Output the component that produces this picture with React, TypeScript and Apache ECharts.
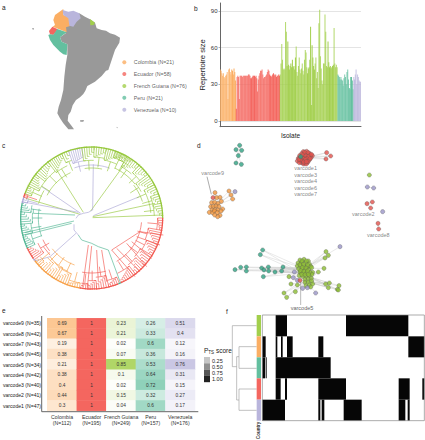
import React, { useEffect, useRef } from "react";
import * as echarts from "echarts";

const FONT = "Liberation Sans";
const ORANGE = "#fbae63";
const RED = "#f4665f";
const GREEN = "#a2cf4c";
const TEAL = "#63bf9f";
const PURPLE = "#b9b5dc";
const GREY = "#999999";
const T_ORANGE = "#f79f45";
const T_RED = "#f2574f";
const T_GREEN = "#96c83c";
const T_TEAL = "#4fb592";
const T_PURPLE = "#aaa6d6";

// ---------- a: map (outline in map units)
const landOutline = [[238,40],[255,50],[270,58],[285,68],[290,85],[305,90],[318,92],[330,100],[345,104],[360,113],[358,128],[345,150],[340,165],[335,180],[325,210],[318,212],[305,228],[285,245],[262,258],[256,272],[250,282],[240,292],[228,300],[218,316],[212,335],[205,345],[203,362],[215,378],[222,388],[205,388],[190,370],[180,355],[172,340],[176,320],[183,300],[190,270],[193,230],[197,195],[202,165],[202,133],[185,125],[180,112],[197,100],[198,82],[208,70]];
const colombiaOutline = [[190,27],[165,45],[160,60],[165,75],[158,80],[170,85],[200,97],[198,82],[210,78],[207,50],[190,45]];
const ecuadorOutline = [[147,93],[157,80],[172,87],[172,90],[160,105],[150,103]];
const guianaOutline = [[270,57],[285,68],[281,75],[271,76]];
const peruOutline = [[145,105],[150,103],[160,104],[172,87],[200,97],[180,112],[185,125],[202,133],[200,165],[190,163],[180,155],[160,135],[150,120]];
const venezuelaOutline = [[188,30],[205,35],[220,32],[238,40],[242,55],[230,65],[220,80],[208,77],[205,55],[190,45]];
const mapIslands = [[[97,84],[102,85],[101,89],[97,88]],[[240,361],[252,360],[250,365],[241,365]],[[348,380],[354,383],[352,385]]];
const mapLegendNames = ["Colombia (N=21)", "Ecuador (N=58)", "French Guiana (N=76)", "Peru (N=21)", "Venezuela (N=10)"];
const mapLegendColors = [ORANGE, RED, GREEN, TEAL, PURPLE];
const mapLegendY = [187, 222, 258, 293, 329];

// ---------- b: repertoire size per isolate
const sizeColombia = [42,41,39,37,39,36,35,37,38,40,18,42,43,40,38,42,41,38,43,40,33];
const sizeEcuador = [10,36,37,36,18,37,37,37,36,37,37,37,37,37,37,37,38,38,37,35,35,36,37,37,37,36,37,35,24,34,37,39,41,41,42,38,35,36,36,37,38,40,42,41,38,37,36,37,38,39,38,37,38,36,37,37,38,37];
const sizeGuiana = [38,47,63,50,42,43,42,81,73,45,65,46,42,45,47,44,50,44,45,42,52,61,40,37,45,52,42,39,43,47,41,38,50,58,56,44,39,43,44,50,77,13,62,52,45,42,47,52,35,40,27,80,91,53,43,33,30,47,47,87,73,45,44,65,48,44,45,43,44,45,46,76,47,44,46,44];
const sizePeru = [38,37,36,34,36,34,33,29,35,38,36,30,40,42,34,27,26,36,36,33,26];
const sizeVenezuela = [36,34,38,42,30,38,36,33,32,32];
const yTicks = [0, 30, 60, 90];
// isolate index ranges that read paler in the picture
const paleBars = [[0,15],[22,39],[49,64],[79,88],[100,115],[125,141],[150,170],[176,186]];

// ---------- c: tree (radial ladders and long branches)
const CX = 275, CY = 249, RIM = 215;
const treeLadders: [string, number, number, number, number][] = [
  [T_GREEN,290,297,185,200],[T_GREEN,297,308,170,195],[T_GREEN,308,322,170,195],[T_GREEN,322,335,165,195],[T_GREEN,335,341,175,200],
  [T_PURPLE,341,352,165,178],[T_GREEN,352,362,165,195],[T_GREEN,362,372,175,195],[T_GREEN,372,385,170,195],[T_GREEN,385,395,185,205],
  [T_GREEN,20,30,185,200],[T_GREEN,30,42,170,195],[T_GREEN,42,52,175,200],[T_GREEN,52,62,160,190],[T_GREEN,62,70,170,200],[T_GREEN,70,78,180,200],[T_GREEN,78,88,180,200],
  [T_RED,90,100,190,205],[T_RED,100,112,165,195],[T_RED,112,122,170,200],[T_RED,122,132,165,195],[T_RED,132,142,170,200],[T_RED,142,155,175,200],[T_RED,157,166,185,205],[T_RED,166,176,170,195],[T_RED,176,183,180,200],[T_RED,183,189,190,205],
  [T_ORANGE,190,200,190,205],[T_ORANGE,200,210,170,195],[T_ORANGE,210,220,165,195],[T_ORANGE,220,228,170,195],[T_ORANGE,228,233,185,200],
  [T_RED,234,245,170,200],[T_TEAL,245,256,180,200],[T_TEAL,256,265,175,200],[T_TEAL,265,275,170,200],[T_TEAL,275,282,175,200],
  [T_PURPLE,283,287,190,205],[T_RED,287,290,195,205],
];
const treeRim: [string, number, number][] = [
  [T_GREEN,290,450],[T_RED,90,156],[T_TEAL,156,158],[T_RED,158,190],[T_ORANGE,190,233],[T_PURPLE,233,235],[T_RED,235,245],[T_TEAL,245,282],[T_PURPLE,282,287],[T_RED,287,290],
];
const treeArcs: [string, number, number, number][] = [
  [T_GREEN,297,335,150],[T_PURPLE,341,380,159],[T_GREEN,352,372,150],[T_GREEN,25,52,165],[T_GREEN,52,72,160],[T_GREEN,70,85,178],
  [T_RED,95,150,150],[T_RED,165,190,165],[T_ORANGE,200,232,150],[T_RED,232,246,160],[T_TEAL,250,280,160],[T_GREEN,285,300,165],
];
const treeBranches: [string, number[][]][] = [
  [T_GREEN, [[278,248],[488,240]]],[T_GREEN, [[278,245],[465,205]]],[T_PURPLE, [[280,242],[418,185]]],
  [T_GREEN, [[272,228],[372,90]]],[T_PURPLE, [[278,225],[280,88]]],[T_GREEN, [[250,232],[170,105]]],
  [T_PURPLE, [[242,235],[125,155]]],[T_GREEN, [[240,238],[78,190]]],[T_PURPLE, [[235,232],[65,200]]],
  [T_TEAL, [[225,240],[100,235],[100,222]]],[T_TEAL, [[222,258],[75,293]]],[T_TEAL, [[215,265],[75,300]]],
  [T_PURPLE, [[228,295],[150,365],[105,378]]],[T_RED, [[150,360],[130,335]]],
  [T_PURPLE, [[222,268],[222,285],[235,300]]],[T_TEAL, [[235,300],[245,315],[275,325],[295,335],[325,345]]],
  [T_RED, [[265,330],[248,455]]],[T_RED, [[275,333],[262,458]]],[T_RED, [[290,345],[295,440]]],[T_RED, [[305,345],[320,440]]],
  [T_TEAL, [[325,345],[362,445]]],[T_RED, [[335,345],[405,425]]],[T_RED, [[350,340],[420,410]]],[T_RED, [[380,325],[440,395]]],
  [T_RED, [[395,320],[455,370]]],[T_RED, [[410,305],[480,330]]],[T_RED, [[420,290],[490,300]]],[T_RED, [[335,345],[420,290]]],
  [T_PURPLE, [[228,250],[235,240],[250,235],[265,232],[278,225]]],[T_ORANGE, [[150,365],[175,395],[205,410]]],
];

// ---------- d: network nodes
const netTeal = [[149,31],[138,44],[155,46],[145,62],[138,84],[154,88],[218,345],[211,359],[135,404],[152,397],[169,396],[169,408],[215,399],[222,405],[235,396],[236,408],[220,425],[255,411],[275,408],[279,396]];
const netTealFront = [[332,65]];
const netRed = [[410,53],[422,63],[408,72],[531,206],[547,201],[542,219],[564,265],[566,282],[69,188],[330,436],
  [340,50],[350,49],[358,55],[345,57],[335,56],[329,62],[340,64],[350,62],[360,60],[367,62],[325,70],[335,72],[345,70],[355,68],[363,68],[322,78],[331,80],[341,78],[350,76],[358,75],[336,84],[345,84],[353,82],[341,87],[349,87],[328,83],
  [344,52],[354,53],[338,60],[347,63],[356,64],[330,68],[340,71],[350,71],[360,71],[336,77],[346,74],[354,79],[331,74],[341,81],[349,80],[327,73],[364,58]];
const netOrange = [[75,173],[117,168],[123,180],[128,192],[80,188],[90,187],[94,199],[65,203],[74,202],[84,205],[62,215],[70,214],[78,213],[87,215],[98,222],[66,225],[75,224],[84,225],[58,232],[68,233],[73,228],[82,233],[90,241],[83,245],[74,240],[93,228]];
const netGreen = [[538,120],[408,350],[415,361],[405,369],[402,400],[385,411],[368,412],[297,425],[303,447],[322,450],[316,470],[282,474],[290,487],[407,447],[418,444],[415,458],[447,452],[442,463],[445,465],
  [330,375],[342,373],[355,378],[324,384],[335,383],[347,384],[358,387],[322,393],[332,392],[342,394],[352,396],[362,394],[326,402],[336,403],[346,405],[357,404],[365,398],[330,412],[340,414],[350,414],[360,412],[328,422],[338,424],[348,424],[358,422],[366,418],[345,433],[355,432],[364,430],[345,442],[355,441],[365,438],[348,452],[358,450],[368,447],[362,456],
  [336,378],[349,378],[330,389],[341,388],[353,390],[337,398],[348,399],[332,407],[342,409],[353,408],[335,418],[345,419],[355,418]];
const netPurple = [[135,170],[532,156],[551,159],[578,230],[450,335],[313,411],[377,474],[338,460],[310,428],[322,436],[352,458]];
const netHubs: [number[], number[][]][] = [
  [[342,400], [[218,345],[211,359],[135,404],[152,397],[169,396],[169,408],[215,399],[222,405],[235,396],[236,408],[220,425],[255,411],[275,408],[279,396],[408,350],[415,361],[405,369],[450,335],[402,400]]],
  [[335,415], [[218,345],[211,359],[135,404],[215,399],[222,405],[236,408],[220,425],[255,411],[275,408],[279,396],[408,350],[415,361]]],
  [[350,440], [[297,425],[303,447],[322,450],[316,470],[282,474],[290,487],[407,447],[418,444],[415,458],[447,452],[442,463],[445,465],[377,474],[385,411],[368,412]]],
  [[355,425], [[407,447],[418,444],[415,458],[447,452],[442,463],[445,465],[297,425],[282,474],[290,487],[385,411]]],
  [[345,400], [[330,375],[355,378],[322,393],[362,394],[328,422],[366,418],[345,442],[365,438],[313,411],[310,428]]],
  [[345,70], [[410,53],[422,63],[408,72],[340,50],[358,55],[325,70],[367,62],[336,84],[353,82]]],
  [[355,65], [[410,53],[422,63],[408,72]]],
  [[76,212], [[117,168],[123,180],[128,192],[135,170],[75,173],[69,188],[90,187],[58,232],[90,241],[98,222],[62,215]]],
  [[145,62], [[149,31],[138,44],[155,46],[138,84],[154,88]]],
  [[531,206], [[547,201],[542,219]]],[[532,156], [[551,159]]],[[564,265], [[566,282]]],
];
const netLabels: [string, number, number][] = [
  ["varcode9",68,115],["varcode1",347,100],["varcode3",347,119],["varcode4",347,138],["varcode6",347,158],["varcode7",347,178],
  ["varcode2",520,237],["varcode8",565,300],
];

// ---------- e: heatmap
const heatRows = ["varcode9 (N=35)","varcode8 (N=42)","varcode7 (N=43)","varcode6 (N=45)","varcode5 (N=34)","varcode4 (N=42)","varcode3 (N=40)","varcode2 (N=41)","varcode1 (N=47)"];
const heatColumns = ["Colombia\n(N=112)","Ecuador\n(N=195)","French Guiana\n(N=249)","Peru\n(N=157)","Venezuela\n(N=176)"];
const heatColors = [ORANGE, RED, GREEN, TEAL, PURPLE];
const heatColombia = [0.69,0.67,0.19,0.38,0.21,0.38,0.4,0.44,0.3];
const heatEcuador = [1,1,1,1,1,1,1,1,1];
const heatGuiana = [0.23,0.21,0.02,0.07,0.85,0.1,0.02,0.15,0.04];
const heatPeru = [0.26,0.33,0.6,0.36,0.53,0.64,0.72,0.32,0.6];
const heatVenezuela = [0.51,0.4,0.12,0.16,0.76,0.31,0.15,0.27,0.17];
const scoreTicks = ["0.25","0.50","0.75","1.00"];
const scoreColors = ["#c6c6c6","#909090","#565656","#222222"];

// ---------- f: presence matrix (panel units), top row first
const matrixColors = [GREEN, ORANGE, TEAL, RED, PURPLE];
const matrixRowTop = [30, 94, 157, 220, 284, 347];
const matrixSegments: [number, number, number][] = [
  [0,182,216],[0,393,580],
  [1,142,152],[1,182,187],[1,198,203],[1,216,233],[1,310,325],[1,580,628],
  [2,142,150],[2,152,155],[2,182,347],
  [3,182,197],[3,210,216],[3,310,393],[3,551,584],[3,622,628],
  [4,142,210],[4,310,316],[4,320,328],[4,386,440],[4,551,571],[4,578,584],
];
const matrixTree = [
  [[125,62],[52,62],[52,185],[65,185]],
  [[65,155],[65,285]],
  [[65,155],[72,155],[72,125],[125,125]],[[72,155],[72,190],[125,190]],
  [[65,285],[72,285],[72,252],[125,252]],[[72,285],[72,316],[125,316]],
];

const polar = (a: number, r: number) => {
  const t = (a * Math.PI) / 180;
  return [CX + r * Math.sin(t), CY - r * Math.cos(t)];
};
const arcPts = (a0: number, a1: number, r: number) => {
  const pts: number[][] = [];
  const n = Math.max(2, Math.ceil(Math.abs(a1 - a0) / 3));
  for (let i = 0; i <= n; i++) pts.push(polar(a0 + ((a1 - a0) * i) / n, r));
  return pts;
};

function buildTree() {
  const out: { c: string; p: number[][] }[] = [];
  treeBranches.forEach(([c, p]) => out.push({ c, p }));
  treeArcs.forEach(([c, a0, a1, r]) => out.push({ c, p: arcPts(a0, a1, r) }));
  const SHIFT = 8;
  treeLadders.forEach(([c, a0, a1, r00, r11]) => {
    const r0 = r00 + SHIFT;
    const r1 = Math.min(r11 + SHIFT, 208);
    const mid = (a0 + a1) / 2;
    out.push({ c, p: [polar(mid, r00 - 22), polar(mid, r0)] });
    const n = Math.round((a1 - a0) / 1.94);
    for (let i = 0; i <= n; i++) {
      const a = a0 + ((a1 - a0) * i) / n;
      const r = r0 + ((r1 - r0) * i) / n;
      out.push({ c, p: [polar(a, r), polar(a, RIM)] });
      if (i < n) out.push({ c, p: arcPts(a, a0 + ((a1 - a0) * (i + 1)) / n, r) });
    }
    out.push({ c, p: arcPts(a0, a1, r0) });
  });
  return out;
}

const hiddenGrid = (g: number, w: number, h: number) => ({
  x: { gridIndex: g, type: "value", min: 0, max: w, show: false },
  y: { gridIndex: g, type: "value", min: 0, max: h, inverse: true, show: false },
});

const polySeries = (
  axisIndex: number,
  items: { c: string; p: number[][]; fill?: boolean }[],
  width: number,
  z = 2
) => ({
  type: "custom",
  xAxisIndex: axisIndex,
  yAxisIndex: axisIndex,
  silent: true,
  z,
  clip: false,
  data: items.map((_, i) => [i]),
  renderItem: (params: any, api: any) => {
    const it = items[params.dataIndex];
    const pts = it.p.map((q) => api.coord(q));
    return it.fill
      ? { type: "polygon", shape: { points: pts }, style: { fill: it.c, stroke: "none" } }
      : { type: "polyline", shape: { points: pts }, style: { stroke: it.c, fill: "none", lineWidth: width } };
  },
});

const boxSeries = (axisIndex: number, items: { c: string; b: number[] }[], z = 3) => ({
  type: "custom",
  xAxisIndex: axisIndex,
  yAxisIndex: axisIndex,
  silent: true,
  z,
  clip: false,
  data: items.map((_, i) => [i]),
  renderItem: (params: any, api: any) => {
    const it = items[params.dataIndex];
    const a = api.coord([it.b[0], it.b[1]]);
    const b = api.coord([it.b[2], it.b[3]]);
    return { type: "rect", shape: { x: a[0], y: a[1], width: b[0] - a[0], height: b[1] - a[1] }, style: { fill: it.c } };
  },
});

const netSeries = (pts: number[][], color: string, z = 5) => ({
  type: "scatter",
  xAxisIndex: 3,
  yAxisIndex: 3,
  silent: true,
  z,
  symbolSize: 4.2,
  itemStyle: { color, borderColor: "#555555", borderWidth: 0.4 },
  data: pts,
});

const panelLetter = (t: string, x: number, y: number) => ({
  type: "text",
  x,
  y,
  silent: true,
  style: { text: t, fontSize: 6.5, fontFamily: FONT, fill: "#222" },
});

function buildOption() {
  const grids = [
    { left: 0, top: 0, width: 212, height: 135 },
    { left: 220, top: 3, width: 141, height: 123.7 },
    { left: 0, top: 135, width: 190, height: 165 },
    { left: 190, top: 135, width: 235, height: 170 },
    { left: 44.7, top: 318.3, width: 150.3, height: 92.4 },
    { left: 215, top: 305, width: 210, height: 135 },
  ];
  const gMap = hiddenGrid(0, 636, 405);
  const gTree = hiddenGrid(2, 570, 495);
  const gNet = hiddenGrid(3, 705, 510);
  const gF = hiddenGrid(5, 630, 405);

  const sizes = [sizeColombia, sizeEcuador, sizeGuiana, sizePeru, sizeVenezuela];
  const barData: any[] = [];
  sizes.forEach((arr, k) =>
    arr.forEach((v) => {
      const i = barData.length;
      const pale = paleBars.some(([s, e]) => i >= s && i < e);
      barData.push({ value: v, itemStyle: { color: mapLegendColors[k], opacity: pale ? 0.82 : 1 } });
    })
  );

  const heatCols = [heatColombia, heatEcuador, heatGuiana, heatPeru, heatVenezuela];

  const mapPolys = [
    { c: GREY, p: landOutline, fill: true },
    ...mapIslands.map((p) => ({ c: GREY, p, fill: true })),
    { c: ORANGE, p: colombiaOutline, fill: true },
    { c: RED, p: ecuadorOutline, fill: true },
    { c: GREEN, p: guianaOutline, fill: true },
    { c: TEAL, p: peruOutline, fill: true },
    { c: PURPLE, p: venezuelaOutline, fill: true },
  ];
  const netEdges: { c: string; p: number[][] }[] = [];
  netHubs.forEach(([h, list]) => list.forEach((q) => netEdges.push({ c: "#cdcdcd", p: [h, q] })));
  netEdges.push({ c: "#444444", p: [[51, 125], [64, 178]] });
  netEdges.push({ c: "#666666", p: [[332, 440], [332, 510]] });

  const stripItems = matrixColors.map((c, r) => ({ c, b: [125, matrixRowTop[r], 138, matrixRowTop[r + 1]] }));
  const treeItems = buildTree();
  const rimItems = treeRim.map(([c, a0, a1]) => ({ c, p: arcPts(a0, a1, RIM - 2) }));

  const graphic: any[] = [
    panelLetter("a", 2, 4),
    panelLetter("b", 194, 5),
    panelLetter("c", 2, 142),
    panelLetter("d", 197, 142),
    panelLetter("e", 2, 307),
    panelLetter("f", 226, 308),
    {
      type: "text",
      x: 204,
      y: 346,
      silent: true,
      style: {
        text: "P{s|TS} score",
        fontSize: 6.5,
        fontFamily: FONT,
        fill: "#222",
        rich: { s: { fontSize: 4.5, fontFamily: FONT, fill: "#222", verticalAlign: "bottom", padding: [4, 0, 0, 0] } },
      },
    },
    { type: "text", x: 302, y: 305, silent: true, style: { text: "varcode5", fontSize: 5.5, fontFamily: FONT, fill: "#666", align: "center" } },
    { type: "text", x: 256, y: 439, rotation: Math.PI / 2, silent: true, style: { text: "Country", fontSize: 4.5, fontWeight: "bold", fontFamily: FONT, fill: "#333" } },
    { type: "polyline", silent: true, shape: { points: [[41.7, 316], [41.7, 411.7], [198.3, 411.7]] }, style: { stroke: "#666", fill: "none", lineWidth: 1 } },
  ];
  scoreTicks.forEach((t, i) => {
    graphic.push({ type: "rect", silent: true, shape: { x: 204, y: 357 + i * 6.3, width: 6, height: 6.3 }, style: { fill: scoreColors[i] } });
    graphic.push({ type: "text", x: 212, y: 357.5 + i * 6.3, silent: true, style: { text: t, fontSize: 5.5, fontFamily: FONT, fill: "#222" } });
  });

  const axisGrey = { lineStyle: { color: "#666", width: 1 } };

  const series: any[] = [
    polySeries(0, mapPolys, 0.5),
    {
      type: "scatter",
      xAxisIndex: 0,
      yAxisIndex: 0,
      silent: true,
      z: 4,
      symbolSize: 4,
      data: mapLegendNames.map((n, i) => ({
        value: [373, mapLegendY[i]],
        name: n,
        itemStyle: { color: mapLegendColors[i] },
        label: { show: true, position: "right", distance: 7.5, formatter: n, fontSize: 5.3, color: "#333", fontFamily: FONT },
      })),
    },
    { type: "bar", xAxisIndex: 1, yAxisIndex: 1, silent: true, barCategoryGap: "12%", data: barData },
    polySeries(2, treeItems, 0.65),
    polySeries(2, rimItems, 1.3),
    polySeries(3, netEdges, 0.45),
    netSeries(netTeal, "#2fa283"),
    netSeries(netGreen, "#8dbe33"),
    netSeries(netOrange, "#f4973d"),
    netSeries(netPurple, "#9a95c7"),
    netSeries(netRed, "#e3524c"),
    netSeries(netTealFront, "#2fa283", 6),
    {
      type: "scatter",
      xAxisIndex: 3,
      yAxisIndex: 3,
      silent: true,
      symbolSize: 0,
      z: 7,
      data: netLabels.map(([n, x, y]) => ({
        value: [x, y],
        label: { show: true, position: "inside", formatter: n, fontSize: 5.5, color: "#666", fontFamily: FONT },
      })),
    },
    boxSeries(5, matrixSegments.map(([r, a, b]) => ({ c: "#060606", b: [a, matrixRowTop[r], b, matrixRowTop[r + 1]] }))),
    boxSeries(5, stripItems),
    polySeries(5, matrixTree.map((p) => ({ c: "#999999", p })), 0.6),
    polySeries(5, [{ c: "#888888", p: [[142, 30], [628, 30], [628, 347], [142, 347], [142, 30]] }], 0.7, 4),
  ];

  const visualMap: any[] = [];
  heatCols.forEach((col, x) => {
    visualMap.push({
      show: false,
      type: "continuous",
      min: 0,
      max: 1,
      dimension: 2,
      seriesIndex: series.length,
      inRange: { color: ["#ffffff", heatColors[x]] },
    });
    series.push({
      type: "heatmap",
      xAxisIndex: 4,
      yAxisIndex: 4,
      silent: true,
      label: {
        show: true,
        fontSize: 4.8,
        color: "#333",
        fontFamily: FONT,
        formatter: (p: any) => String(p.value[2]),
      },
      data: col.map((v, y) => [x, y, v]),
    });
  });

  return {
    animation: false,
    backgroundColor: "#fff",
    textStyle: { fontFamily: FONT },
    grid: grids,
    visualMap,
    xAxis: [
      gMap.x,
      {
        gridIndex: 1,
        type: "category",
        data: barData.map((_, i) => String(i + 1)),
        axisTick: { show: false },
        axisLabel: { show: false },
        axisLine: { ...axisGrey, onZero: false },
        name: "Isolate",
        nameLocation: "middle",
        nameGap: 5,
        nameTextStyle: { fontSize: 6.5, fontWeight: "normal", color: "#222", fontFamily: FONT },
      },
      gTree.x,
      gNet.x,
      {
        gridIndex: 4,
        type: "category",
        position: "bottom",
        data: heatColumns,
        offset: 1,
        axisLine: { show: false },
        axisTick: { length: 1.5, lineStyle: { color: "#666", width: 0.5 }, alignWithLabel: true },
        axisLabel: { fontSize: 5.2, color: "#333", interval: 0, margin: 2.5, lineHeight: 6, fontFamily: FONT },
        splitLine: { show: false },
      },
      gF.x,
    ],
    yAxis: [
      gMap.y,
      {
        gridIndex: 1,
        type: "value",
        min: -4.7,
        max: 96.5,
        axisLine: { show: true, ...axisGrey },
        axisTick: { show: true, length: 1.5, lineStyle: { color: "#666", width: 0.5 }, customValues: yTicks },
        axisLabel: { fontSize: 6, color: "#333", margin: 2.5, customValues: yTicks, fontFamily: FONT },
        splitLine: { show: true, lineStyle: { color: "#dddddd", width: 0.8 } },
        name: "Repertoire size",
        nameLocation: "middle",
        nameGap: 13.5,
        nameRotate: 90,
        nameTextStyle: { fontSize: 7.6, fontWeight: "normal", color: "#222", fontFamily: FONT },
      },
      gTree.y,
      gNet.y,
      {
        gridIndex: 4,
        type: "category",
        inverse: true,
        data: heatRows,
        offset: 3,
        axisLine: { show: false },
        axisTick: { length: 1.5, lineStyle: { color: "#666", width: 0.5 }, alignWithLabel: true },
        axisLabel: { fontSize: 5.1, color: "#222", interval: 0, margin: 3.2, fontFamily: FONT },
        splitLine: { show: false },
      },
      gF.y,
    ],
    series,
    graphic,
  };
}

export default function App() {
  const ref = useRef<HTMLDivElement>(null);
  useEffect(() => {
    const chart = echarts.init(ref.current!, undefined, { renderer: "svg" });
    chart.setOption(buildOption() as any);
    return () => chart.dispose();
  }, []);
  return <div ref={ref} style={{ position: "absolute", left: 0, top: 0, width: 425, height: 440 }} />;
}
